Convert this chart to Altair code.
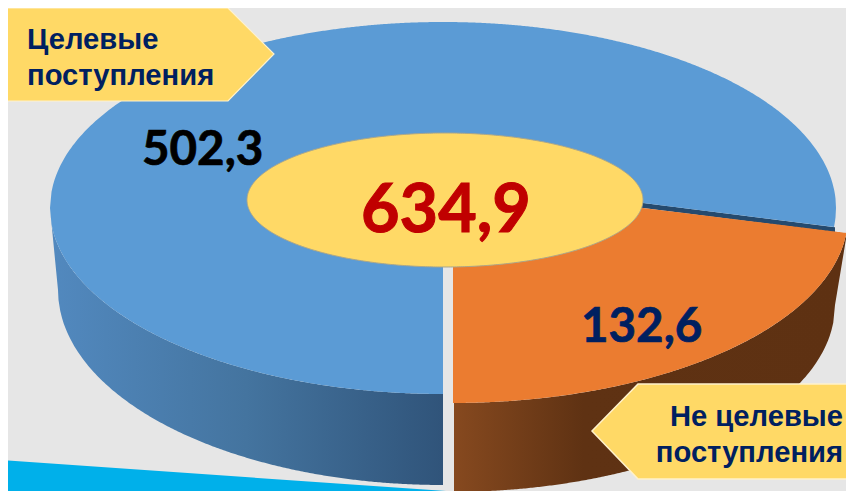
import numpy as np
import pandas as pd
import altair as alt

# Chart values
categories = ["Целевые поступления", "Не целевые поступления"]
values = ["502,3", "132,6"]
total = "634,9"

BG = "#e6e6e6"
BLUE = "#5b9bd5"
ORANGE = "#eb7c30"
YELLOW = "#ffd966"
NAVY = "#002060"

X = alt.Scale(domain=[8, 846], nice=False, zero=False)
Y = alt.Scale(domain=[491, 8], nice=False, zero=False)


def ell(x, cx, cy, rx, ry, sign):
    u = np.clip((np.asarray(x, float) - cx) / rx, -1, 1)
    return cy + sign * ry * np.sqrt(1 - u * u)


def line(x, p, q):
    x = np.asarray(x, float)
    return p[1] + (x - p[0]) * (q[1] - p[1]) / (q[0] - p[0])


def band(x, y, y2, **mark):
    df = pd.DataFrame({"x": x, "y": y, "y2": y2})
    return alt.Chart(df).mark_area(clip=True, **mark).encode(
        x=alt.X("x:Q", scale=X, axis=None),
        y=alt.Y("y:Q", scale=Y, axis=None),
        y2="y2:Q",
    )


def hgrad(*stops):
    return alt.Gradient(
        gradient="linear", x1=0, x2=1, y1=0, y2=0,
        stops=[alt.GradientStop(offset=o, color=c) for o, c in stops],
    )


# Ellipse geometry of the tilted ring
B = (443, 208, 393, 186)       # blue top face
BW = (443, 290, 385, 195)      # blue wall lower edge
O = (452, 216, 396, 187)       # orange top face
OW = (450, 305, 385, 187)      # orange wall lower edge
H = (445, 200, 198, 67)        # centre hole

# Blue wall
xs = np.r_[np.linspace(50, 58, 5), np.linspace(58.5, 443, 220)]
top = ell(xs, *B, 1)
bot = np.where(xs < 58, line(xs, (50, 208), (58, 290)), ell(xs, *BW, 1))
blue_wall = band(xs, top, bot, fill=hgrad((0, "#5289bf"), (0.5, "#44749f"), (1, "#30547a")))

# Orange wall
xs = np.r_[np.linspace(454, 835, 220), np.linspace(835.5, 847, 8)]
top = ell(xs, *O, 1)
top = np.where(xs > 846, line(xs, (846, top[-2]), (847, 233)), top)
bot = np.where(xs < 835, ell(xs, *OW, 1), line(xs, (835, 305), (847, 233)))
orange_wall = band(xs, top, bot, fill=hgrad((0, "#86491f"), (0.33, "#5f3213"), (1, "#5e3112")))

# Dark inner wall below the blue sector
xs = np.array([560, 835])
dark = band(xs, line(xs, (643, 203), (834, 227)), line(xs, (643, 208), (834, 232)), fill="#254a6e")

# Blue top face
xs = np.r_[np.linspace(50, 443, 260), np.linspace(443.01, 834, 260), np.linspace(834.5, 836, 4)]
top = ell(xs, *B, -1)
bot = np.where(xs <= 443, ell(xs, *B, 1),
               np.where(xs <= 834, line(xs, (643, 203), (834, 227)), ell(xs, *B, 1)))
blue_top = band(xs, top, bot, fill=BLUE)

# Orange top face
xs = np.linspace(453, 847, 260)
orange_top = band(xs, line(xs, (643, 208), (847, 233)),
                  np.maximum(ell(xs, *O, 1), line(xs, (643, 208), (847, 233))), fill=ORANGE)

# Centre ellipse
xs = 445 + 198 * np.cos(np.linspace(np.pi, 0, 300))
hole = band(xs, ell(xs, *H, -1), ell(xs, *H, 1), fill=YELLOW, stroke="#a9a68c", strokeWidth=1)

# Cyan stripe at the bottom
xs = np.array([8, 446])
stripe = band(xs, line(xs, (0, 460), (446, 491)), [491, 491], fill="#00b0ea")

# Callouts
call1 = band([7, 228, 274], [8, 8, 54], [101, 101, 54],
             fill=YELLOW, stroke="#fff2cc", strokeWidth=1.2)
call2 = band([592, 638, 860], [431, 384, 384], [431, 479, 479],
             fill=YELLOW, stroke="#fff2cc", strokeWidth=1.5)


def label(txt, x, y, size, color, font, align="left", heft=0.0):
    df = pd.DataFrame({"t": [txt], "x": [x], "y": [y]})
    return alt.Chart(df).mark_text(
        font=font, fontSize=size, fontWeight="bold", color=color,
        align=align, baseline="alphabetic", stroke=color, strokeWidth=heft,
    ).encode(
        x=alt.X("x:Q", scale=X, axis=None),
        y=alt.Y("y:Q", scale=Y, axis=None),
        text="t:N",
    )


w1 = categories[0].split(" ")
w2 = categories[1].rsplit(" ", 1)
texts = [
    label(w1[0], 27, 49, 29.2, NAVY, "Liberation Sans"),
    label(w1[1], 27, 85, 29.2, NAVY, "Liberation Sans"),
    label(w2[0], 843, 426, 29.2, NAVY, "Liberation Sans", "right"),
    label(w2[1], 843, 462, 29.2, NAVY, "Liberation Sans", "right"),
    label(values[0], 142, 165, 47.5, "#000000", "Lato", heft=0.7),
    label(values[1], 581, 342, 47.5, NAVY, "Lato", heft=0.7),
    label(total, 361, 232, 66.5, "#c00000", "Lato", heft=1.0),
]

chart = alt.layer(
    blue_wall, orange_wall, dark, blue_top, orange_top, hole, stripe, call1, call2, *texts
).properties(
    width=838, height=483, padding=0, background=BG,
    autosize=alt.AutoSizeParams(type="none"),
).configure_view(stroke=None)

chart.save("out.html", embed_options={"renderer": "svg", "actions": False})
